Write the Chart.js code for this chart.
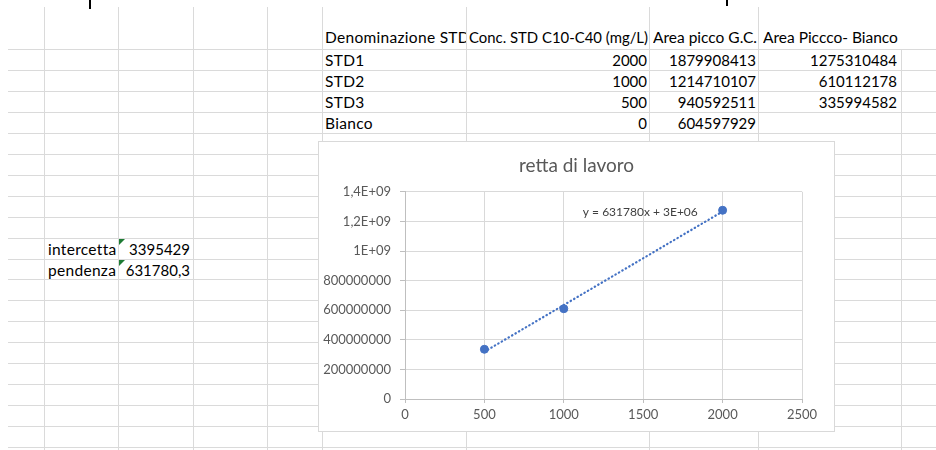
<!DOCTYPE html>
<html>
<head>
<meta charset="utf-8">
<script src="https://cdn.jsdelivr.net/npm/chart.js@4"></script>
<style>
  body { margin: 0; width: 936px; height: 450px; background: #fff; position: relative; overflow: hidden; font-family: Lato, "Open Sans", sans-serif; }
  .hl { position: absolute; height: 1px; background: #dadada; }
  .vl { position: absolute; width: 1px; background: #dadada; }
  .cell { position: absolute; height: 21px; line-height: 21px; font-size: 15.5px; color: #000; white-space: nowrap; overflow: hidden; }
  .txt { letter-spacing: 0.3px; }
  .num { text-align: right; font-size: 15px; }
  .flag { position: absolute; width: 0; height: 0; border-top: 6px solid #1e7b34; border-right: 6px solid transparent; }
  #chartBox { position: absolute; left: 318px; top: 141px; width: 517px; height: 291px; box-sizing: border-box; border: 1px solid #d9d9d9; background: #fff; }
  .mark { position: absolute; width: 2px; background: #000; top: 0; }
</style>
</head>
<body>
<div id="sheet"></div>
<div class="mark" style="left:89px;height:9px"></div>
<div class="mark" style="left:726px;height:6px"></div>
<div id="chartBox"><canvas id="chart" width="515" height="289"></canvas></div>
<script>
// spreadsheet table
const headers = ['Denominazione STD', 'Conc. STD C10-C40 (mg/L)', 'Area picco G.C.', 'Area Piccco- Bianco'];
const names = ['STD1', 'STD2', 'STD3', 'Bianco'];
const concTable = ['2000', '1000', '500', '0'];
const areaPicco = ['1879908413', '1214710107', '940592511', '604597929'];
const areaMenoBianco = ['1275310484', '610112178', '335994582', ''];
const regrLabels = ['intercetta', 'pendenza'];
const regrValues = ['3395429', '631780,3'];

// chart data
const concentrations = [500, 1000, 2000];
const areaNetta = [335994582, 610112178, 1275310484];
const trendX = [500, 2000];
const trendY = [319285579, 1266956029];
const trendLabel = 'y = 631780x + 3E+06';
const yTickLabels = ['0', '200000000', '400000000', '600000000', '800000000', '1E+09', '1,2E+09', '1,4E+09'];
const xTickLabels = ['0', '500', '1000', '1500', '2000', '2500'];

// grid
const sheet = document.getElementById('sheet');
const colX = [44, 118, 193, 267, 322, 466, 649, 758, 901];
const rowY = [];
for (let i = 0; i < 20; i++) rowY.push(Math.round(49 + i * 20.95));

function add(cls, style, text) {
  const d = document.createElement('div');
  d.className = cls;
  Object.assign(d.style, style);
  if (text !== undefined) d.textContent = text;
  sheet.appendChild(d);
  return d;
}
rowY.forEach(y => add('hl', { left: '8px', top: y + 'px', width: '928px' }));
colX.forEach(x => {
  const top = x === 901 ? 49 : 7;
  add('vl', { left: x + 'px', top: top + 'px', height: (450 - top) + 'px' });
});

// header row
add('cell txt', { left: '325px', top: '27px', width: '141px' }, headers[0]);
add('cell', { left: '469px', top: '27px', width: '182px', fontSize: '14.9px' }, headers[1]);
add('cell', { left: '653px', top: '27px', width: '106px' }, headers[2]);
add('cell', { left: '763px', top: '27px', width: '140px', background: '#fff' }, headers[3]);

names.forEach((n, i) => {
  const top = rowY[i] + 1;
  add('cell txt', { left: '325px', top: top + 'px', width: '140px' }, n);
  add('cell num', { left: '467px', top: top + 'px', width: '180px' }, concTable[i]);
  add('cell num', { left: '650px', top: top + 'px', width: '106px' }, areaPicco[i]);
  add('cell num', { left: '759px', top: top + 'px', width: '138px' }, areaMenoBianco[i]);
});

regrLabels.forEach((t, i) => {
  const top = rowY[9 + i] + 1;
  add('cell txt', { left: '48px', top: top + 'px', width: '70px' }, t);
  add('cell num', { left: '119px', top: top + 'px', width: '71px' }, regrValues[i]);
  add('flag', { left: '119px', top: (rowY[9 + i] + 1) + 'px' });
});

// trendline equation label
const trendLabelPlugin = {
  id: 'trendLabel',
  afterDatasetsDraw(chart) {
    const { ctx, scales } = chart;
    ctx.save();
    ctx.font = '12px Lato, "Open Sans", sans-serif';
    ctx.fillStyle = '#404040';
    ctx.textAlign = 'left';
    ctx.textBaseline = 'middle';
    ctx.fillText(trendLabel, scales.x.getPixelForValue(1120), scales.y.getPixelForValue(1.265e9));
    ctx.restore();
  }
};

new Chart(document.getElementById('chart'), {
  type: 'scatter',
  data: {
    datasets: [
      {
        label: 'tendenza',
        data: trendX.map((x, i) => ({ x: x, y: trendY[i] })),
        showLine: true,
        borderColor: '#4472C4',
        borderWidth: 2.2,
        borderDash: [0.5, 3.5],
        borderCapStyle: 'round',
        pointRadius: 0
      },
      {
        label: 'area',
        data: concentrations.map((x, i) => ({ x: x, y: areaNetta[i] })),
        backgroundColor: '#4472C4',
        borderColor: '#4472C4',
        pointRadius: 4
      }
    ]
  },
  options: {
    responsive: false,
    animation: false,
    layout: { padding: 0 },
    plugins: {
      legend: { display: false },
      tooltip: { enabled: false },
      title: {
        display: true,
        text: 'retta di lavoro',
        color: '#595959',
        font: { family: 'Lato', size: 19, weight: 'normal' },
        padding: { top: 12, bottom: 15 }
      }
    },
    scales: {
      x: {
        type: 'linear',
        min: 0, max: 2500,
        ticks: { stepSize: 500, color: '#595959', padding: 4, font: { family: 'Lato', size: 13 },
          callback: (v, i) => xTickLabels[i] },
        grid: { color: '#d9d9d9', tickLength: 4, tickColor: '#bfbfbf' },
        border: { color: '#bfbfbf' },
        afterFit: s => { s.height = 32; }
      },
      y: {
        min: 0, max: 1.4e9,
        ticks: { stepSize: 2e8, color: '#595959', padding: 9, font: { family: 'Lato', size: 13 },
          callback: (v, i) => yTickLabels[i] },
        grid: { color: '#d9d9d9', tickLength: 5, tickColor: '#bfbfbf' },
        border: { color: '#bfbfbf' },
        afterFit: s => { s.width = 86; }
      },
      // empty right-hand margin so the title stays centred on the whole chart
      yRight: {
        type: 'linear',
        position: 'right',
        ticks: { display: false },
        grid: { display: false },
        border: { display: false },
        afterFit: s => { s.width = 32; }
      }
    }
  },
  plugins: [trendLabelPlugin]
});
</script>
</body>
</html>
